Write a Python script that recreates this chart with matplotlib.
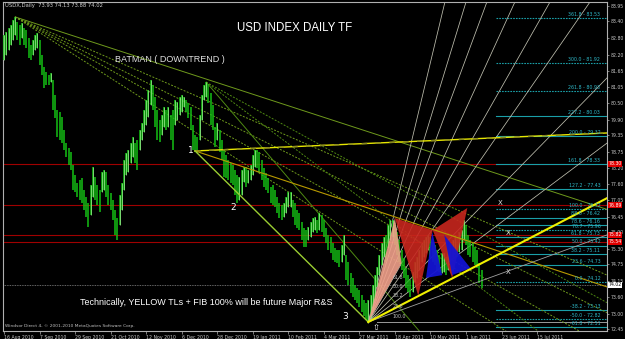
import matplotlib
matplotlib.use("Agg")
import matplotlib.pyplot as plt
import matplotlib.transforms as mtransforms
import numpy as np

# daily bars (bar index = trading day from 16 Aug 2010)
highs = [82.92, 83.02, 83.16, 83.27, 83.45, 83.56, 83.38, 83.27, 83.34, 83.16,
         83.09, 82.81, 82.56, 82.74, 82.92, 82.99, 82.74, 82.20, 81.78, 81.60,
         81.49, 81.56, 81.31, 80.78, 80.24, 80.17, 79.99, 79.53, 79.07, 78.89,
         78.75, 78.29, 77.93, 77.65, 77.75, 77.82, 77.40, 77.15, 76.94, 77.58,
         78.22, 77.86, 77.58, 77.40, 78.04, 78.11, 78.04, 77.58, 77.29, 77.04,
         76.69, 76.40, 77.22, 77.65, 78.46, 78.71, 78.82, 79.07, 79.28, 79.07,
         79.18, 79.53, 79.78, 80.24, 80.60, 80.96, 81.31, 81.14, 80.71, 80.24,
         79.89, 80.07, 80.35, 80.24, 80.35, 80.07, 80.24, 80.60, 80.53, 80.71,
         80.78, 80.71, 80.60, 80.49, 80.35, 79.71, 79.35, 79.28, 80.07, 80.78,
         81.14, 81.24, 81.17, 80.85, 80.42, 79.64, 79.78, 79.53, 79.18, 78.82,
         78.64, 78.46, 78.36, 78.29, 78.11, 77.93, 77.86, 78.11, 78.22, 78.22,
         78.11, 78.29, 78.64, 78.82, 78.82, 78.75, 78.46, 78.18, 78.00, 77.82,
         77.51, 77.58, 77.40, 77.15, 76.94, 76.86, 76.94, 77.15, 77.33, 77.33,
         77.04, 76.94, 76.69, 76.58, 76.26, 76.05, 75.97, 76.08, 76.26, 76.40,
         76.44, 76.33, 76.58, 76.51, 76.33, 76.05, 75.80, 75.73, 75.51, 75.33,
         75.26, 75.26, 75.44, 75.80, 75.08, 74.83, 74.44, 74.27, 74.01, 73.91,
         73.84, 73.66, 73.48, 73.37, 73.48, 73.66, 74.01, 74.37, 74.66, 75.08,
         75.51, 75.73, 75.80, 76.15, 76.33, 76.33, 76.15, 75.90, 75.62, 75.26,
         74.98, 74.62, 74.37, 74.20, 74.48, 74.83, 75.01, 75.26, 75.44, 75.62,
         75.73, 75.80, 75.73, 75.55, 75.44, 75.26, 75.08, 75.15, 75.15, 75.01,
         75.26, 75.51, 75.62, 75.80, 75.73, 75.90, 75.97, 76.33, 76.15, 75.80,
         75.62, 75.51, 75.37, 75.26, 74.80, 74.55]
lows = [82.03, 82.20, 82.38, 82.56, 82.74, 82.92, 82.74, 82.56, 82.81, 82.56,
        82.45, 82.10, 82.03, 82.20, 82.38, 82.45, 81.85, 81.49, 81.03, 81.14,
        81.14, 81.24, 80.24, 79.96, 79.28, 79.18, 79.07, 78.82, 78.57, 78.29,
        78.11, 77.40, 77.33, 77.15, 77.04, 76.94, 76.69, 76.44, 76.08, 76.51,
        77.15, 77.04, 76.86, 76.61, 77.33, 77.40, 77.15, 76.86, 76.69, 76.33,
        75.80, 75.62, 76.15, 76.69, 77.40, 77.93, 78.04, 78.36, 78.57, 78.36,
        78.11, 78.82, 79.18, 79.46, 79.71, 79.99, 80.42, 80.24, 79.64, 79.18,
        79.10, 79.35, 79.64, 79.53, 79.64, 79.18, 78.82, 79.71, 79.89, 80.07,
        80.17, 80.35, 80.17, 79.96, 79.53, 78.82, 78.75, 78.71, 79.18, 79.89,
        80.60, 80.71, 80.49, 79.71, 79.53, 78.93, 79.18, 78.75, 78.46, 77.86,
        77.82, 77.75, 77.65, 77.58, 77.22, 76.94, 77.04, 77.22, 77.68, 77.51,
        77.65, 77.75, 77.93, 78.22, 78.18, 78.00, 77.75, 77.51, 77.40, 77.29,
        76.94, 76.86, 76.79, 76.58, 76.40, 76.33, 76.44, 76.58, 76.79, 76.79,
        76.44, 76.15, 76.05, 75.97, 75.62, 75.37, 75.37, 75.62, 75.73, 75.90,
        75.97, 75.87, 75.97, 75.90, 75.73, 75.51, 75.26, 75.15, 74.90, 74.83,
        74.80, 74.66, 74.83, 75.08, 74.20, 74.01, 73.73, 73.59, 73.48, 73.37,
        73.23, 73.05, 72.91, 72.77, 72.66, 72.84, 73.13, 73.48, 73.94, 74.37,
        74.73, 75.01, 74.83, 75.33, 75.62, 75.73, 75.44, 75.08, 74.83, 74.55,
        74.27, 73.91, 73.76, 73.59, 73.76, 74.12, 74.27, 74.55, 74.83, 75.01,
        75.15, 75.26, 74.98, 74.83, 74.73, 74.55, 74.48, 74.44, 74.48, 74.37,
        74.55, 74.83, 75.01, 75.08, 75.01, 75.19, 75.26, 75.62, 75.44, 75.08,
        75.01, 74.83, 74.73, 74.62, 74.09, 73.91]

date_ticks = list(range(0, 241, 16))
date_labels = ['16 Aug 2010', '7 Sep 2010', '29 Sep 2010', '21 Oct 2010', '12 Nov 2010',
               '6 Dec 2010', '28 Dec 2010', '19 Jan 2011', '10 Feb 2011', '4 Mar 2011',
               '27 Mar 2011', '18 Apr 2011', '10 May 2011', '1 Jun 2011', '23 Jun 2011',
               '15 Jul 2011']
price_ticks = [83.95, 83.40, 82.80, 82.20, 81.65, 81.05, 80.50, 79.90, 79.35, 78.75, 78.20,
               77.60, 77.05, 76.45, 75.90, 75.30, 74.75, 74.15, 73.60, 73.00, 72.45]

# horizontal levels
red_levels = [78.33, 76.86, 75.80, 75.55]
red_tags = ['78.30', '76.89', '75.82', '75.54']
last_price = 74.02

fib_levels = ['361.8', '300.0', '261.8', '227.2', '200.0', '161.8', '127.2', '100.0', '88.6',
              '78.6', '70.7', '61.8', '50.0', '38.2', '23.6', '0.0', '-38.2', '-50.0', '-61.8']
fib_prices = [83.53, 81.92, 80.93, 80.03, 79.32, 78.33, 77.43, 76.72, 76.42,
              76.16, 75.96, 75.73, 75.42, 75.11, 74.73, 74.12, 73.13, 72.82, 72.51]
fib_dotted = ['361.8', '300.0', '261.8', '100.0', '70.7', '0.0', '-50.0']
fib_start = 221.6

# trend lines
fan_top = (5, 83.56)
fan_top_ends = [76.71, 74.37, 73.03, 71.83, 70.07]
peak3 = (91, 81.24)
peak3_ends = [(190, 72.10), (271.5, 70.54), (271.5, 73.39)]
pt1 = (86, 78.79)
pt3 = (164, 72.70)
yellow_up_end = (271.5, 79.43)
yellow_main_end = (271.5, 77.11)
olive_down_end = (271.5, 73.95)
gray_end = (271.5, 75.80)
gray_fan_ends = [(198.5, 84.09), (208.0, 84.09), (217.4, 84.09), (230.0, 84.09),
                 (245.8, 84.09), (263.8, 84.09), (271.5, 81.39), (271.5, 79.07)]

# harmonic pattern triangles (bar, price)
salmon_tri = [(164, 72.70), (176, 76.40), (179, 74.80)]
red_tris = [[(176, 76.40), (193, 75.97), (186.5, 73.63)],
            [(193, 75.97), (208.6, 76.76), (201.8, 74.27)]]
blue_tris = [[(192.8, 75.90), (190, 74.27), (197.3, 74.37)],
             [(198.2, 75.80), (201.8, 74.37), (210, 74.62)]]
fan_labels = ['61.8', '50.0', '38.2', '23.6', '100.0']
fan_label_prices = [74.30, 73.98, 73.63, 73.27, 72.88]
x_marks = [(223.3, 76.94), (226.9, 75.87), (226.9, 74.48)]

fig = plt.figure(figsize=(6.25, 3.39), dpi=100, facecolor='black')
ax = fig.add_axes([3 / 625, 8 / 339, 604 / 625, 329 / 339])
ax.set_facecolor('black')
ax.set_xlim(-0.5, 271.5)
ax.set_ylim(72.38, 84.093)

# horizontal levels
for p in red_levels:
    ax.axhline(p, color='#a00000', lw=0.8, zorder=1)
ax.axhline(last_price, color='#8a8a8a', lw=0.6, ls=(0, (1, 1)), zorder=1)
ax.plot([168, 271.5], [72.70, 72.70], color='#9a9a9a', lw=0.7, zorder=1)

for lev, p in zip(fib_levels, fib_prices):
    ls = (0, (1.5, 1)) if lev in fib_dotted else '-'
    ax.plot([fib_start, 271.5], [p, p], color='#1a9fa8', lw=0.8, ls=ls, zorder=2)
    ax.text(268.5, p + 0.04, f'{lev} - {p:.2f}', color='#2fb8c8', fontsize=3.4,
            ha='right', va='bottom', zorder=6)

# fans and trend lines
for i, end in enumerate(fan_top_ends):
    ls = '-' if i == 0 else (0, (2, 1.5))
    ax.plot([fan_top[0], 271.5], [fan_top[1], end], color='#6f9a1c', lw=0.7, ls=ls, zorder=2)
for j, (b, p) in enumerate(peak3_ends):
    ls = '-' if j == 0 else (0, (2, 1.5))
    ax.plot([peak3[0], b], [peak3[1], p], color='#4f8a12', lw=0.7, ls=ls, zorder=2)
for b, p in gray_fan_ends:
    ax.plot([pt3[0], b], [pt3[1], p], color='#c0c0b0', lw=0.55, zorder=2)

# bars
idx = np.arange(len(highs))
mids = (np.array(highs) + np.array(lows)) / 2
up = np.r_[True, mids[1:] >= mids[:-1]]
ax.vlines(idx, lows, highs, color='#14c014', lw=1.1, zorder=3)
ax.vlines(idx[up], np.array(lows)[up], np.array(highs)[up], color='#b4ffa8', lw=0.45, zorder=3)

# harmonic pattern
ax.add_patch(plt.Polygon(salmon_tri, closed=True, fc='#f0a08a', ec='none', alpha=0.9, zorder=4))
for tri in red_tris:
    ax.add_patch(plt.Polygon(tri, closed=True, fc='#c8261e', ec='none', alpha=0.9, zorder=4))
for tri in blue_tris:
    ax.add_patch(plt.Polygon(tri, closed=True, fc='#1414d2', ec='none', alpha=0.95, zorder=4))

ax.plot([pt1[0], yellow_up_end[0]], [pt1[1], yellow_up_end[1]], color='#e6e600', lw=1.0, zorder=5)
ax.plot([pt1[0], yellow_up_end[0]], [pt1[1], yellow_up_end[1]], color='#8a8a20', lw=1.0,
        ls=(0, (4, 6)), zorder=5)
ax.plot([pt1[0], olive_down_end[0]], [pt1[1], olive_down_end[1]], color='#b89a00', lw=0.8, zorder=5)
ax.plot([pt1[0], pt3[0]], [pt1[1], pt3[1]], color='#9acd32', lw=1.0, zorder=5)
ax.plot([pt3[0], gray_end[0]], [pt3[1], gray_end[1]], color='#a0a0a0', lw=0.6, zorder=5)
ax.plot([pt3[0], yellow_main_end[0]], [pt3[1], yellow_main_end[1]], color='#f0f000', lw=1.5, zorder=5)

# text annotations
ax.text(0.5, 83.97, 'USDX,Daily  73.93 74.13 73.88 74.02', color='#d0d0d0', fontsize=3.8,
        ha='left', va='center')
ax.text(131, 83.17, 'USD INDEX DAILY TF', color='white', fontsize=8.3, ha='center', va='center',
        family='Liberation Sans')
ax.text(50, 82.03, 'BATMAN ( DOWNTREND )', color='#e0e0e0', fontsize=6.5, ha='left', va='center',
        family='Liberation Sans')
ax.text(34, 73.41, 'Technically, YELLOW TLs + FIB 100% will be future Major R&S', color='white',
        fontsize=6.5, ha='left', va='center', family='Liberation Sans')
ax.text(85.5, 78.79, '1', color='white', fontsize=6.5, ha='right', va='center')
ax.text(103, 76.76, '2', color='white', fontsize=6.5, ha='center', va='center')
ax.text(153.5, 72.88, '3', color='white', fontsize=6.5, ha='center', va='center')
for b, p in x_marks:
    ax.text(b, p, 'X', color='#e0e0e0', fontsize=5, ha='center', va='center')
for lab, p in zip(fan_labels, fan_label_prices):
    ax.text(175, p, lab, color='#c0c0c0', fontsize=3.4, ha='left', va='center', zorder=6)
ax.text(167.5, 72.52, '\u21e7', color='white', fontsize=6, ha='center', va='center')
ax.text(0.5, 72.55, 'Windsor Direct 4, \u00a9 2001-2010 MetaQuotes Software Corp.', color='#c0c0c0',
        fontsize=3.2, ha='left', va='center')

# axes
for s in ['left', 'top', 'bottom', 'right']:
    ax.spines[s].set_color('#b0b0b0')
    ax.spines[s].set_linewidth(0.8)
ax.yaxis.tick_right()
ax.set_yticks(price_ticks)
ax.set_yticklabels([f'{p:.2f}' for p in price_ticks])
ax.tick_params(axis='y', colors='#b0b0b0', labelsize=3.3, length=1.5, width=0.5, pad=1,
               labelcolor='#c8c8c8')
ax.set_xticks(date_ticks)
ax.set_xticklabels(date_labels, ha='left')
ax.tick_params(axis='x', colors='#b0b0b0', labelsize=3.3, length=2, width=0.5, pad=1,
               labelcolor='#c8c8c8')

ytr = mtransforms.blended_transform_factory(ax.transAxes, ax.transData)
for p, t in zip(red_levels, red_tags):
    ax.text(1.002, p, t, transform=ytr, color='white', fontsize=3.3, ha='left', va='center',
            bbox=dict(boxstyle='square,pad=0.1', fc='#e00000', ec='none'), clip_on=False)
ax.text(1.002, last_price, '74.02', transform=ytr, color='black', fontsize=3.3, ha='left',
        va='center', bbox=dict(boxstyle='square,pad=0.1', fc='white', ec='none'), clip_on=False)

fig.savefig('out.png', dpi=100, facecolor='black')
